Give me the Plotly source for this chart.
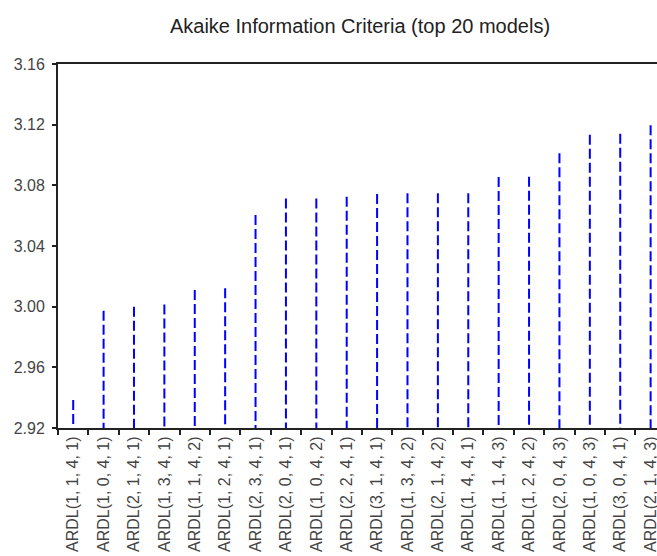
import plotly.graph_objects as go

models = [
    "ARDL(1, 1, 4, 1)", "ARDL(1, 0, 4, 1)", "ARDL(2, 1, 4, 1)", "ARDL(1, 3, 4, 1)",
    "ARDL(1, 1, 4, 2)", "ARDL(1, 2, 4, 1)", "ARDL(2, 3, 4, 1)", "ARDL(2, 0, 4, 1)",
    "ARDL(1, 0, 4, 2)", "ARDL(2, 2, 4, 1)", "ARDL(3, 1, 4, 1)", "ARDL(1, 3, 4, 2)",
    "ARDL(2, 1, 4, 2)", "ARDL(1, 4, 4, 1)", "ARDL(1, 1, 4, 3)", "ARDL(1, 2, 4, 2)",
    "ARDL(2, 0, 4, 3)", "ARDL(1, 0, 4, 3)", "ARDL(3, 0, 4, 1)", "ARDL(2, 1, 4, 3)",
]
aic = [
    2.9385, 2.9973, 3.0000, 3.0015, 3.0110, 3.0121, 3.0604, 3.0714,
    3.0714, 3.0725, 3.0743, 3.0748, 3.0748, 3.0748, 3.0855, 3.0857,
    3.1011, 3.1134, 3.1140, 3.1196,
]
y_ticks = [2.92, 2.96, 3.00, 3.04, 3.08, 3.12, 3.16]
y_base = y_ticks[0]

xs, ys = [], []
for m, v in zip(models, aic):
    xs += [m, m, None]
    ys += [v, y_base, None]

fig = go.Figure()
fig.add_trace(go.Scatter(
    x=xs, y=ys, mode="lines",
    line=dict(color="#0000FF", width=2, dash="10px,4px"),
    hoverinfo="skip", showlegend=False, connectgaps=False,
))

font_family = "Liberation Sans, Arial, sans-serif"
fig.update_layout(
    width=657, height=556,
    margin=dict(l=58, r=0, t=64, b=128, autoexpand=False),
    paper_bgcolor="white", plot_bgcolor="white",
    title=dict(text="Akaike Information Criteria (top 20 models)",
               x=360 / 657, xref="container", xanchor="center",
               y=1 - 26 / 556, yref="container", yanchor="middle",
               font=dict(family=font_family, size=20, color="#222")),
    font=dict(family=font_family, color="#333"),
)
fig.update_xaxes(
    type="category", categoryorder="array", categoryarray=models,
    range=[-0.5, 19.21], tickson="boundaries",
    ticks="outside", ticklen=5, tickwidth=2, tickcolor="#222",
    showline=True, linewidth=2, linecolor="#222", mirror=True,
    showgrid=False, zeroline=False, tickangle=-90,
    tickfont=dict(family=font_family, size=16, color="#444"),
    automargin=False,
)
fig.update_yaxes(
    range=[2.92, 3.16], tickvals=y_ticks, tickformat=".2f",
    ticks="outside", ticklen=4, tickwidth=2, tickcolor="#222",
    showline=True, linewidth=2, linecolor="#222", mirror=False,
    showgrid=False, zeroline=False, ticklabelstandoff=4,
    tickfont=dict(family=font_family, size=16, color="#444"),
    automargin=False,
)
fig.write_html(
    "out.html",
    config={"displayModeBar": False},
    post_script="document.body.style.margin='0';document.body.style.overflow='hidden';",
)
